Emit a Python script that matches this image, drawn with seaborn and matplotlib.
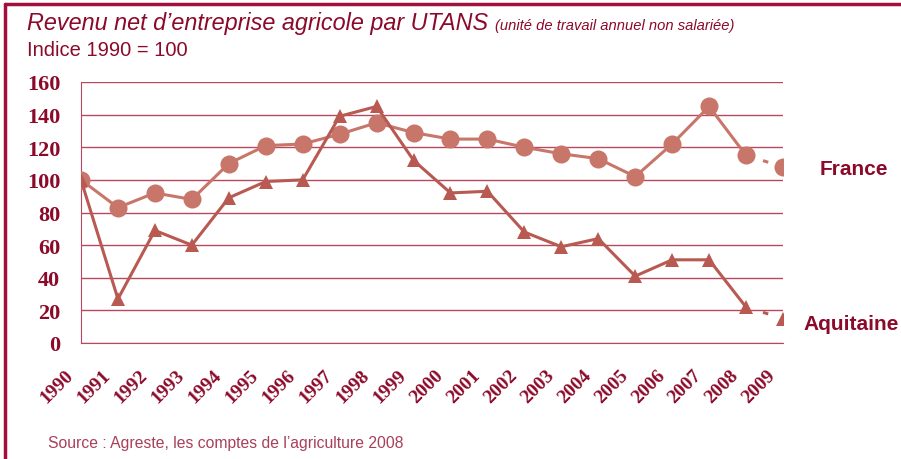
import pandas as pd
import matplotlib.pyplot as plt
import matplotlib.transforms as mtransforms
import seaborn as sns

# Data (index 1990 = 100)
years = list(range(1990, 2010))
france = [100, 83, 92, 88, 110, 121, 122, 128, 135, 129, 125, 125, 120, 116, 113, 102, 122, 145, 115, 108]
aquitaine = [100, 27, 69, 60, 89, 99, 100, 139, 145, 112, 92, 93, 68, 59, 64, 41, 51, 51, 22, 15]
y_ticks = [0, 20, 40, 60, 80, 100, 120, 140, 160]

dark_red = '#8b0a2a'
grid_col = '#b84860'
col_fr = '#c8766a'
col_aq = '#b85a52'

df = pd.DataFrame({'annee': years, 'France': france, 'Aquitaine': aquitaine})

sns.set_style('white')
plt.rcParams['font.family'] = ['Liberation Sans', 'DejaVu Sans']

fig = plt.figure(figsize=(9.01, 4.60), dpi=100)
ax = fig.add_axes([81 / 901, 1 - 344 / 460, (783 - 81) / 901, (344 - 83) / 460])

# solid part 1990-2008, one short dash for the last step
solid = df[df['annee'] <= 2008]
last = df[df['annee'] >= 2008]
sns.lineplot(data=solid, x='annee', y='France', ax=ax, color=col_fr, lw=2.2,
             marker='o', markersize=13, markeredgewidth=0, zorder=3)
sns.lineplot(data=solid, x='annee', y='Aquitaine', ax=ax, color=col_aq, lw=2.2,
             marker='^', markersize=10, markeredgewidth=0, zorder=4)
dash = (0, (0, 5.8, 1.8, 100))
ax.plot(last['annee'], last['France'], color=col_fr, lw=2.2, ls=dash, zorder=3)
ax.plot(last['annee'], last['Aquitaine'], color=col_aq, lw=2.2, ls=dash, zorder=4)
ax.plot(last['annee'].iloc[-1:], last['France'].iloc[-1:], 'o', color=col_fr, ms=13, mew=0, zorder=3)
ax.plot(last['annee'].iloc[-1:], last['Aquitaine'].iloc[-1:], '^', color=col_aq, ms=10, mew=0, zorder=4)

ax.set_xlim(1990, 2009)
ax.set_ylim(0, 160)
ax.set_yticks(y_ticks)
ax.set_xticks(years)
ax.yaxis.grid(True, color=grid_col, lw=1)
ax.set_axisbelow(True)
for s in ['top', 'right']:
    ax.spines[s].set_visible(False)
ax.spines['left'].set_color(grid_col)
ax.spines['bottom'].set_color(grid_col)
ax.tick_params(axis='x', colors=grid_col, length=5, width=1, direction='out')
ax.tick_params(axis='y', colors=grid_col, length=7, width=1, direction='out')
ax.set_xlabel('')
ax.set_ylabel('')

ax.set_yticklabels([str(v) for v in y_ticks], family='Liberation Serif', fontweight='bold',
                   fontsize=16, color=dark_red)
ax.set_xticklabels([str(y) for y in years], family='Liberation Serif', fontweight='bold',
                   fontsize=14, color=dark_red, rotation=45, ha='right', va='center',
                   rotation_mode='anchor')
ax.tick_params(axis='x', pad=16)
ax.tick_params(axis='y', pad=8)
shift = mtransforms.ScaledTranslation(-0.10, 0, fig.dpi_scale_trans)
for lbl in ax.get_xticklabels():
    lbl.set_transform(lbl.get_transform() + shift)

# series labels
fig.text(820 / 901, 1 - 170 / 460, 'France', fontsize=15, fontweight='bold', color=dark_red,
         va='center', ha='left')
fig.text(803 / 901, 1 - 325 / 460, 'Aquitaine', fontsize=15, fontweight='bold', color=dark_red,
         va='center', ha='left')

# titles
t = fig.text(27 / 901, 1 - 30 / 460, 'Revenu net d\u2019entreprise agricole par UTANS ',
             fontsize=16.8, style='italic', color=dark_red, va='baseline')
fig.canvas.draw()
bb = t.get_window_extent()
fig.text(bb.x1 / 901, 1 - 30 / 460, '(unit\u00e9 de travail annuel non salari\u00e9e)',
         fontsize=10.6, style='italic', color=dark_red, va='baseline')
fig.text(27 / 901, 1 - 56 / 460, 'Indice 1990 = 100', fontsize=14.5, color=dark_red, va='baseline')
fig.text(48 / 901, 1 - 448 / 460, 'Source : Agreste, les comptes de l\u2019agriculture 2008',
         fontsize=11.3, color='#a8405a', va='baseline')

# frame lines top and left
fig.add_artist(plt.Line2D([5 / 901, 1], [1 - 5 / 460, 1 - 5 / 460], color='#a0103a', lw=2.5))
fig.add_artist(plt.Line2D([5 / 901, 5 / 901], [0, 1 - 5 / 460], color='#a0103a', lw=2.5))

fig.savefig('out.png', dpi=100)
